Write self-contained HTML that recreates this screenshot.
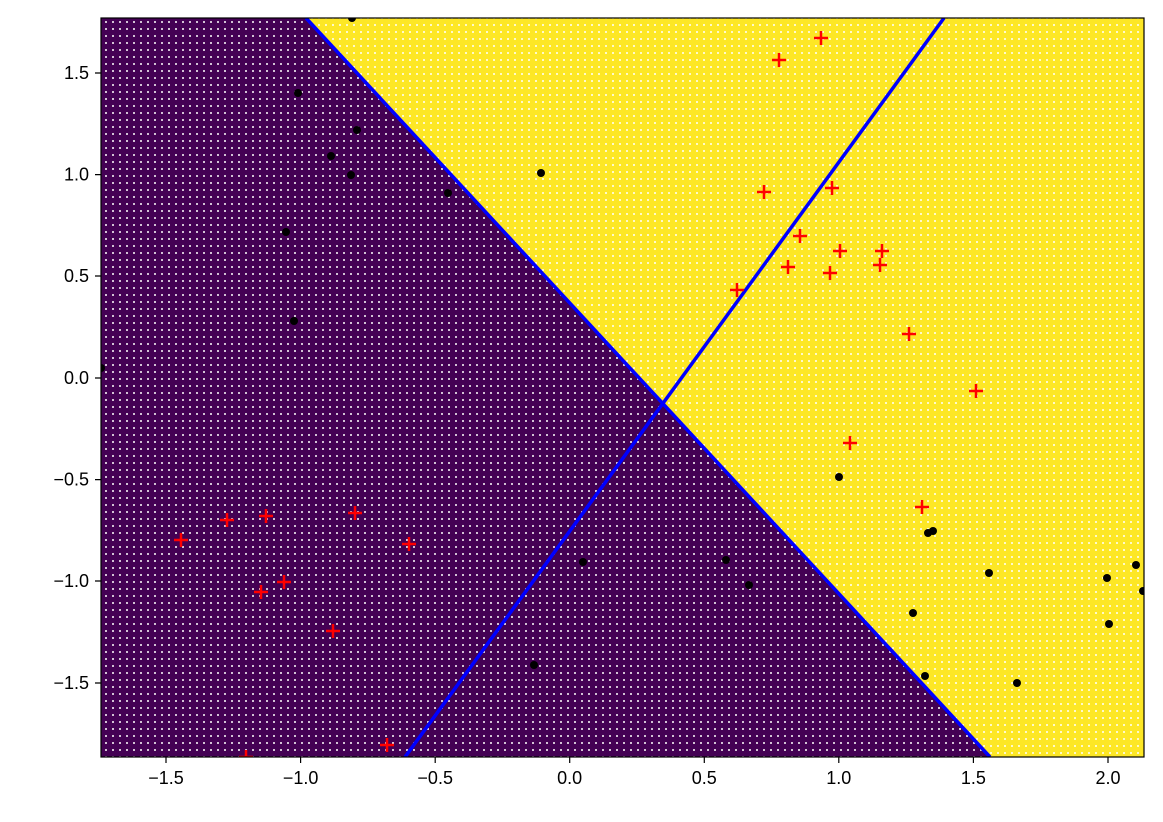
<!DOCTYPE html>
<html><head><meta charset="utf-8"><style>body{margin:0;background:#fff}svg{display:block}</style></head><body>
<svg width="1163" height="822" xmlns="http://www.w3.org/2000/svg" font-family="Liberation Sans, DejaVu Sans, sans-serif" font-size="18">
<defs><clipPath id="c"><rect x="101" y="18" width="1043" height="739"/></clipPath>
<pattern id="pp" width="7" height="7" patternUnits="userSpaceOnUse"><rect width="7" height="7" fill="#440154"/><circle cx="1" cy="1" r="1" fill="#fff"/></pattern>
<pattern id="py" width="7" height="7" patternUnits="userSpaceOnUse"><rect width="7" height="7" fill="#fde725"/><circle cx="4" cy="4" r="1" fill="#fff"/></pattern>
</defs>
<g clip-path="url(#c)">
<polygon points="101,18 306,18 990,757 101,757" fill="url(#pp)"/>
<polygon points="306,18 1144,18 1144,757 990,757" fill="url(#py)"/>
<line x1="306" y1="18" x2="990" y2="757" stroke="#0000ff" stroke-width="3.5"/>
<line x1="405" y1="757" x2="944" y2="18" stroke="#0000ff" stroke-width="3.5"/>
<g fill="#000">
<circle cx="352" cy="18" r="4"/><circle cx="298" cy="93" r="4"/><circle cx="357" cy="130" r="4"/><circle cx="331" cy="156" r="4"/><circle cx="351" cy="175" r="4"/><circle cx="448" cy="193" r="4"/><circle cx="541" cy="173" r="4"/><circle cx="286" cy="232" r="4"/><circle cx="294" cy="321" r="4"/><circle cx="101" cy="368" r="4"/><circle cx="839" cy="477" r="4"/><circle cx="928" cy="533" r="4"/><circle cx="933" cy="531" r="4"/><circle cx="583" cy="562" r="4"/><circle cx="726" cy="560" r="4"/><circle cx="749" cy="585" r="4"/><circle cx="989" cy="573" r="4"/><circle cx="1107" cy="578" r="4"/><circle cx="1136" cy="565" r="4"/><circle cx="1143" cy="591" r="4"/><circle cx="913" cy="613" r="4"/><circle cx="1109" cy="624" r="4"/><circle cx="534" cy="665" r="4"/><circle cx="925" cy="676" r="4"/><circle cx="1017" cy="683" r="4"/>
</g>
<g stroke="#ff0000" stroke-width="2.5">
<path d="M821 31v14M814 38h14M779 53v14M772 60h14M764 185v14M757 192h14M832 181v14M825 188h14M800 229v14M793 236h14M840 244v14M833 251h14M882 244v14M875 251h14M788 260v14M781 267h14M830 266v14M823 273h14M880 258v14M873 265h14M737 283v14M730 290h14M909 327v14M902 334h14M976 384v14M969 391h14M850 436v14M843 443h14M922 500v14M915 507h14M181 533v14M174 540h14M227 513v14M220 520h14M266 509v14M259 516h14M355 506v14M348 513h14M409 537v14M402 544h14M284 575v14M277 582h14M261 585v14M254 592h14M333 624v14M326 631h14M387 738v14M380 745h14M246 750v14M239 757h14"/>
</g>
</g>
<rect x="101" y="18" width="1043" height="739" fill="none" stroke="#000" stroke-width="1.2"/>
<g stroke="#000" stroke-width="1.2">
<path d="M166 757v6M300.6 757v6M435.2 757v6M569.7 757v6M704.3 757v6M838.8 757v6M973.4 757v6M1108 757v6"/>
<path d="M101 73h-6M101 174.6h-6M101 276h-6M101 378h-6M101 479.6h-6M101 581h-6M101 683h-6"/>
</g>
<g text-anchor="middle" fill="#000">
<text x="166" y="784">−1.5</text><text x="300.6" y="784">−1.0</text><text x="435.2" y="784">−0.5</text><text x="569.7" y="784">0.0</text><text x="704.3" y="784">0.5</text><text x="838.8" y="784">1.0</text><text x="973.4" y="784">1.5</text><text x="1108" y="784">2.0</text>
</g>
<g text-anchor="end" fill="#000">
<text x="89" y="79">1.5</text><text x="89" y="180.6">1.0</text><text x="89" y="282">0.5</text><text x="89" y="384">0.0</text><text x="89" y="485.6">−0.5</text><text x="89" y="587">−1.0</text><text x="89" y="689">−1.5</text>
</g>
</svg>
</body></html>
